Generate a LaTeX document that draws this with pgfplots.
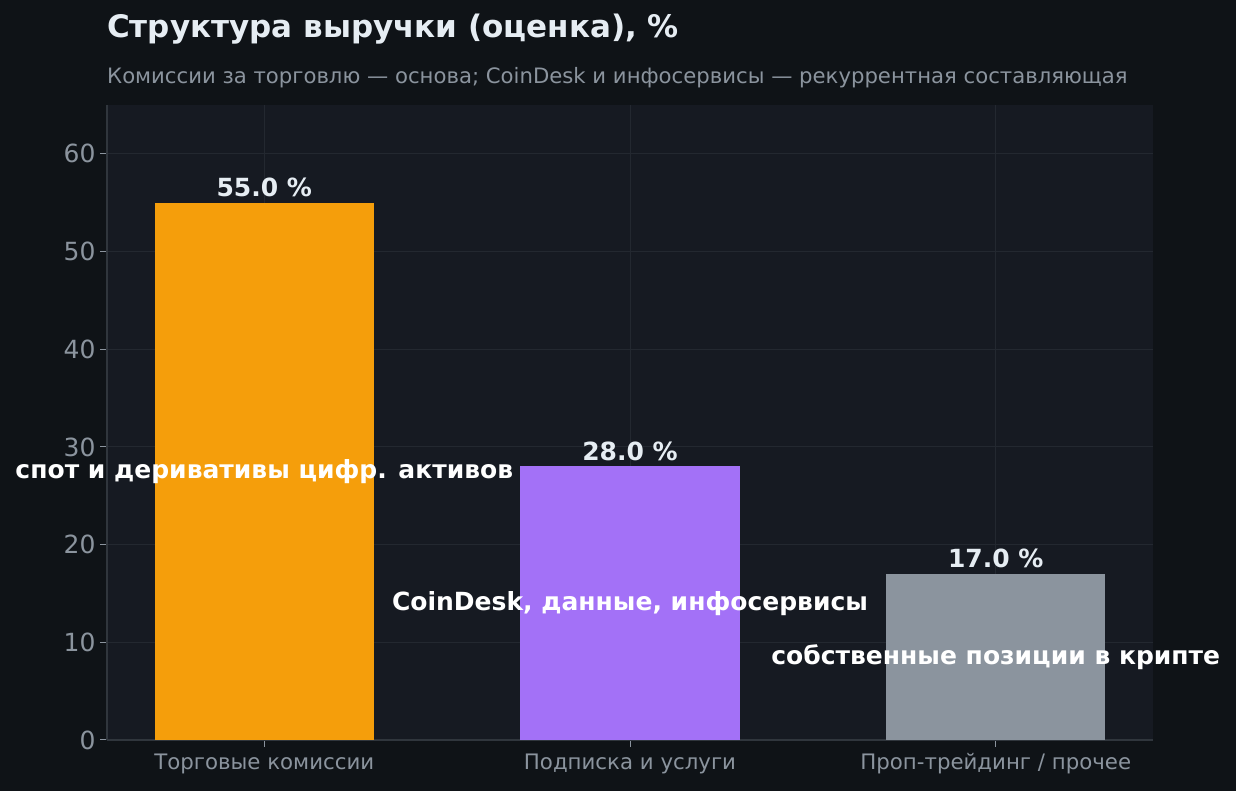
\documentclass[border=0pt]{standalone}
\usepackage{fontspec}
\setmainfont{DejaVu Sans}
\usepackage{pgfplots}
\pgfplotsset{compat=1.18}
\definecolor{figbg}{HTML}{0F1317}
\definecolor{axbg}{HTML}{161A22}
\definecolor{gridc}{HTML}{232830}
\definecolor{spine}{HTML}{30363D}
\definecolor{ticktxt}{HTML}{8B949E}
\definecolor{titletxt}{HTML}{E6EDF3}
\definecolor{barA}{HTML}{F59E0B}
\definecolor{barB}{HTML}{A371F7}
\definecolor{barC}{HTML}{8B949E}
\begin{document}
\begin{tikzpicture}
\fill[figbg] (0pt,0pt) rectangle (1236pt,791pt);
\useasboundingbox (0pt,0pt) rectangle (1236pt,791pt);
\node[anchor=base west, text=titletxt, inner sep=0pt] at (107pt,753pt) {\fontsize{31}{36}\selectfont\bfseries Структура выручки (оценка), \%};
\node[anchor=base west, text=ticktxt, inner sep=0pt] at (107pt,707pt) {\fontsize{21.2}{25}\selectfont Комиссии за торговлю — основа; CoinDesk и инфосервисы — рекуррентная составляющая};
\begin{axis}[
  at={(107pt,51pt)}, anchor=south west,
  scale only axis, width=1046pt, height=635pt,
  xmin=-0.43, xmax=2.43, ymin=0, ymax=65,
  axis background/.style={fill=axbg},
  axis lines*=left,
  axis line style={draw=spine, line width=1.2pt, -},
  tick align=outside, major tick length=7pt,
  tick style={draw=ticktxt, line width=1pt},
  ytick={0,10,20,30,40,50,60},
  xtick={0,1,2},
  xticklabels={Торговые комиссии, Подписка и услуги, Проп-трейдинг / прочее},
  /pgf/number format/assume math mode=true,
  yticklabel style={text=ticktxt, font=\fontsize{25}{28}\selectfont, xshift=-1pt},
  xticklabel style={text=ticktxt, font=\fontsize{21.3}{25}\selectfont, yshift=-3pt},
  grid=major,
  grid style={draw=gridc, line width=1pt},
  ybar, bar width=0.6, bar shift=0pt,
  clip=false,
]
\addplot[fill=barA, draw=none] coordinates {(0,55)};
\addplot[fill=barB, draw=none] coordinates {(1,28)};
\addplot[fill=barC, draw=none] coordinates {(2,17)};
\node[anchor=base, text=titletxt, font=\fontsize{25}{28}\selectfont\bfseries] at (axis cs:0,55) [yshift=6pt] {55.0 \%};
\node[anchor=base, text=titletxt, font=\fontsize{25}{28}\selectfont\bfseries] at (axis cs:1,28) [yshift=6pt] {28.0 \%};
\node[anchor=base, text=titletxt, font=\fontsize{25}{28}\selectfont\bfseries] at (axis cs:2,17) [yshift=6pt] {17.0 \%};
\node[text=white, font=\fontsize{25}{28}\selectfont\bfseries] at (axis cs:0,27.5) {спот и деривативы цифр. активов};
\node[text=white, font=\fontsize{25}{28}\selectfont\bfseries] at (axis cs:1,14) {CoinDesk, данные, инфосервисы};
\node[text=white, font=\fontsize{25}{28}\selectfont\bfseries] at (axis cs:2,8.5) {собственные позиции в крипте};
\end{axis}
\end{tikzpicture}
\end{document}
